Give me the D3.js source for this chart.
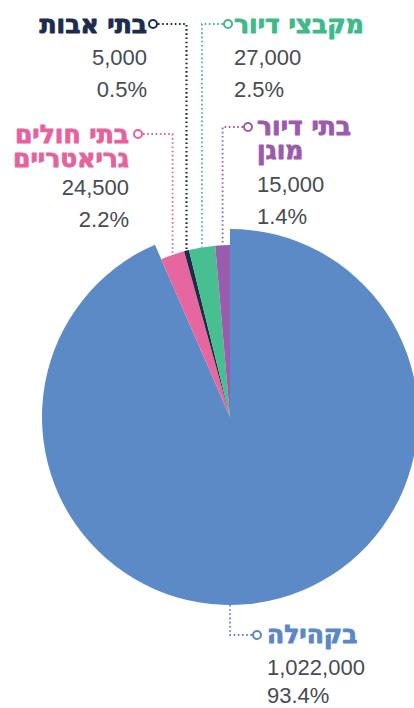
<!DOCTYPE html>
<html>
<head>
<meta charset="utf-8">
<script src="https://cdn.jsdelivr.net/npm/d3@7"></script>
<style>
  html, body { margin: 0; padding: 0; background: #fff; }
  svg { display: block; }
</style>
</head>
<body>
<svg id="chart" width="414" height="708"></svg>
<script>
// Where older adults live: counts and shares, in drawing order (clockwise from 12 o'clock)
const categories = ["בקהילה", "בתי חולים גריאטריים", "בתי אבות", "מקבצי דיור", "בתי דיור מוגן"];
const titleLines = [["בקהילה"], ["בתי חולים", "גריאטריים"], ["בתי אבות"], ["מקבצי דיור"], ["בתי דיור", "מוגן"]];
const values = [1022000, 24500, 5000, 27000, 15000];
const valueLabels = ["1,022,000", "24,500", "5,000", "27,000", "15,000"];
const percentLabels = ["93.4%", "2.2%", "0.5%", "2.5%", "1.4%"];
const sliceColors = ["#5b8ac7", "#e6679f", "#1f2a44", "#47bf91", "#9a5cae"];
const titleColors = ["#5b87c6", "#e4639e", "#1d2b4f", "#3fb98a", "#9b5aad"];

const svg = d3.select("#chart");
const cx = 230, cy = 417;
const rBig = 188, rSmall = 172;

const pie = d3.pie().sort(null).value(d => d).startAngle(0).endAngle(2 * Math.PI);
const arcs = pie(values);

const g = svg.append("g").attr("transform", `translate(${cx},${cy})`);

const outerR = i => (i === 0 ? rBig : rSmall);
const arcGen = d3.arc().innerRadius(0);

g.selectAll("path.slice")
  .data(arcs)
  .join("path")
  .attr("class", "slice")
  .attr("d", (d, i) => arcGen.outerRadius(outerR(i))(d))
  .attr("fill", (d, i) => sliceColors[i]);

// Label placement: marker circle, text side and first baselines
const layout = [
  { marker: [257, 635], side: "left", x: 267, titleY: 643, numY: 675, leaderAngle: Math.PI },
  { marker: [138, 134], side: "right", x: 129, titleY: 143, numY: 195 },
  { marker: [153, 24], side: "right", x: 147, titleY: 33, numY: 65 },
  { marker: [228, 24], side: "left", x: 234, titleY: 33, numY: 65 },
  { marker: [248, 127], side: "left", x: 257, titleY: 135, numY: 192 }
];
const titleLineStep = 24;
const numLineStep = 31;

const dotStyle = (sel, color, w) => sel
  .attr("fill", "none")
  .attr("stroke", color)
  .attr("stroke-width", w)
  .attr("stroke-dasharray", "1.6 2.6");

arcs.forEach((a, i) => {
  const L = layout[i];
  const ang = L.leaderAngle !== undefined ? L.leaderAngle : (a.startAngle + a.endAngle) / 2;
  const r = outerR(i);
  const px = cx + r * Math.sin(ang);
  const py = cy - r * Math.cos(ang);
  const [mx, my] = L.marker;
  const toward = L.side === "left" ? -1 : 1; // direction from marker to leader
  const startX = mx + toward * 5;
  const lineW = i === 2 ? 2.2 : 1.8;

  svg.append("path")
    .attr("d", `M${startX},${my} H${px} V${py}`)
    .call(dotStyle, titleColors[i], lineW);

  svg.append("circle")
    .attr("cx", mx).attr("cy", my).attr("r", 4)
    .attr("fill", "#fff")
    .attr("stroke", titleColors[i])
    .attr("stroke-width", 2);

  const anchor = L.side === "left" ? "start" : "end";

  const title = svg.append("text")
    .attr("y", L.titleY)
    .attr("text-anchor", anchor)
    .attr("font-family", "'DejaVu Sans', sans-serif")
    .attr("font-weight", "bold")
    .attr("font-size", 25)
    .attr("fill", titleColors[i])
    .attr("stroke", titleColors[i])
    .attr("stroke-width", 0.9)
    .attr("stroke-linejoin", "round");
  titleLines[i].forEach((t, k) => {
    title.append("tspan")
      .attr("x", L.x)
      .attr("dy", k === 0 ? 0 : titleLineStep)
      .text(t);
  });

  const nums = svg.append("text")
    .attr("y", L.numY)
    .attr("text-anchor", anchor)
    .attr("font-family", "'Liberation Sans', Arial, sans-serif")
    .attr("font-size", 22)
    .attr("fill", "#474b52");
  [valueLabels[i], percentLabels[i]].forEach((t, k) => {
    nums.append("tspan")
      .attr("x", L.x)
      .attr("dy", k === 0 ? 0 : (i === 0 ? 28 : 32))
      .text(t);
  });
});
</script>
</body>
</html>
